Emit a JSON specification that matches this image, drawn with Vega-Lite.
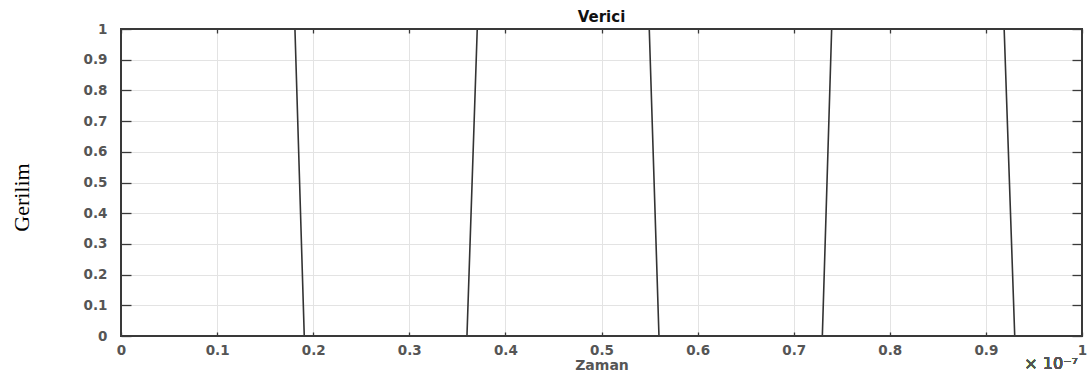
{
  "$schema": "https://vega.github.io/schema/vega-lite/v6.json",
  "width": 961,
  "height": 307,
  "autosize": {"type": "none"},
  "padding": {"left": 121, "top": 29, "right": 6, "bottom": 40},
  "background": "white",
  "config": {
    "view": {"stroke": null},
    "axis": {
      "labelFont": "DejaVu Sans",
      "labelFontSize": 13.5,
      "labelFontWeight": "bold",
      "labelColor": "#555555",
      "titleFont": "DejaVu Sans",
      "titleColor": "#555555",
      "domain": false,
      "tickColor": "#3a3a3a",
      "tickWidth": 1.3,
      "gridColor": "#e3e3e3",
      "gridWidth": 1
    }
  },
  "title": {
    "text": "Verici",
    "font": "DejaVu Sans",
    "fontSize": 15,
    "fontWeight": "bold",
    "color": "#111111",
    "anchor": "middle",
    "frame": "group",
    "offset": -3
  },
  "data": {
    "values": [
      {"t": 0, "v": 1},
      {"t": 1.81e-8, "v": 1},
      {"t": 1.907e-8, "v": 0},
      {"t": 3.60e-8, "v": 0},
      {"t": 3.707e-8, "v": 1},
      {"t": 5.497e-8, "v": 1},
      {"t": 5.598e-8, "v": 0},
      {"t": 7.298e-8, "v": 0},
      {"t": 7.395e-8, "v": 1},
      {"t": 9.19e-8, "v": 1},
      {"t": 9.30e-8, "v": 0},
      {"t": 1e-7, "v": 0}
    ]
  },
  "resolve": {"axis": {"x": "independent", "y": "independent"}},
  "layer": [
    {
      "mark": {"type": "line", "color": "#333333", "strokeWidth": 1.6},
      "encoding": {
        "x": {
          "field": "t",
          "type": "quantitative",
          "scale": {"domain": [0, 1e-7], "nice": false, "zero": false},
          "axis": {
            "orient": "bottom",
            "values": [0, 1e-8, 2e-8, 3e-8, 4e-8, 5e-8, 6e-8, 7e-8, 8e-8, 9e-8, 1e-7],
            "labelExpr": "format(datum.value * 1e7, '.1~f')",
            "labelFlush": false,
            "offset": -4,
            "tickSize": 4,
            "labelPadding": 7,
            "grid": true,
            "title": "Zaman",
            "titleFontSize": 14,
            "titleFontWeight": "bold",
            "titleY": 33,
            "titleBaseline": "middle"
          }
        },
        "y": {
          "field": "v",
          "type": "quantitative",
          "scale": {"domain": [0, 1], "nice": false},
          "axis": {
            "orient": "left",
            "values": [0, 0.1, 0.2, 0.3, 0.4, 0.5, 0.6, 0.7, 0.8, 0.9, 1],
            "format": ".1~f",
            "offset": -10,
            "tickSize": 10,
            "labelPadding": 14,
            "grid": true,
            "title": "Gerilim",
            "titleFont": "Liberation Serif",
            "titleFontSize": 22,
            "titleFontWeight": "normal",
            "titleColor": "#000000",
            "titleAngle": -90,
            "titleX": -110,
            "titleY": 168,
            "titleAlign": "center",
            "titleBaseline": "middle"
          }
        }
      }
    },
    {
      "mark": {"type": "rect", "fill": null, "stroke": "#3a3a3a", "strokeWidth": 1.5},
      "encoding": {
        "x": {
          "datum": 0,
          "type": "quantitative",
          "axis": {
            "orient": "top",
            "values": [0, 1e-8, 2e-8, 3e-8, 4e-8, 5e-8, 6e-8, 7e-8, 8e-8, 9e-8, 1e-7],
            "labels": false,
            "grid": false,
            "offset": -4,
            "tickSize": 4,
            "title": null
          }
        },
        "x2": {"datum": 1e-7},
        "y": {
          "datum": 0,
          "type": "quantitative",
          "axis": {
            "orient": "right",
            "values": [0, 0.1, 0.2, 0.3, 0.4, 0.5, 0.6, 0.7, 0.8, 0.9, 1],
            "labels": false,
            "grid": false,
            "offset": -10,
            "tickSize": 10,
            "title": null
          }
        },
        "y2": {"datum": 1}
      }
    },
    {
      "mark": {
        "type": "text",
        "text": "× 10⁻⁷",
        "font": "DejaVu Sans",
        "fontSize": 16,
        "fontWeight": "normal",
        "color": "#555555",
        "align": "right",
        "baseline": "middle",
        "dx": -4,
        "dy": 28
      },
      "encoding": {
        "x": {"datum": 1e-7, "type": "quantitative", "axis": null},
        "y": {"datum": 0, "type": "quantitative", "axis": null}
      }
    }
  ]
}
